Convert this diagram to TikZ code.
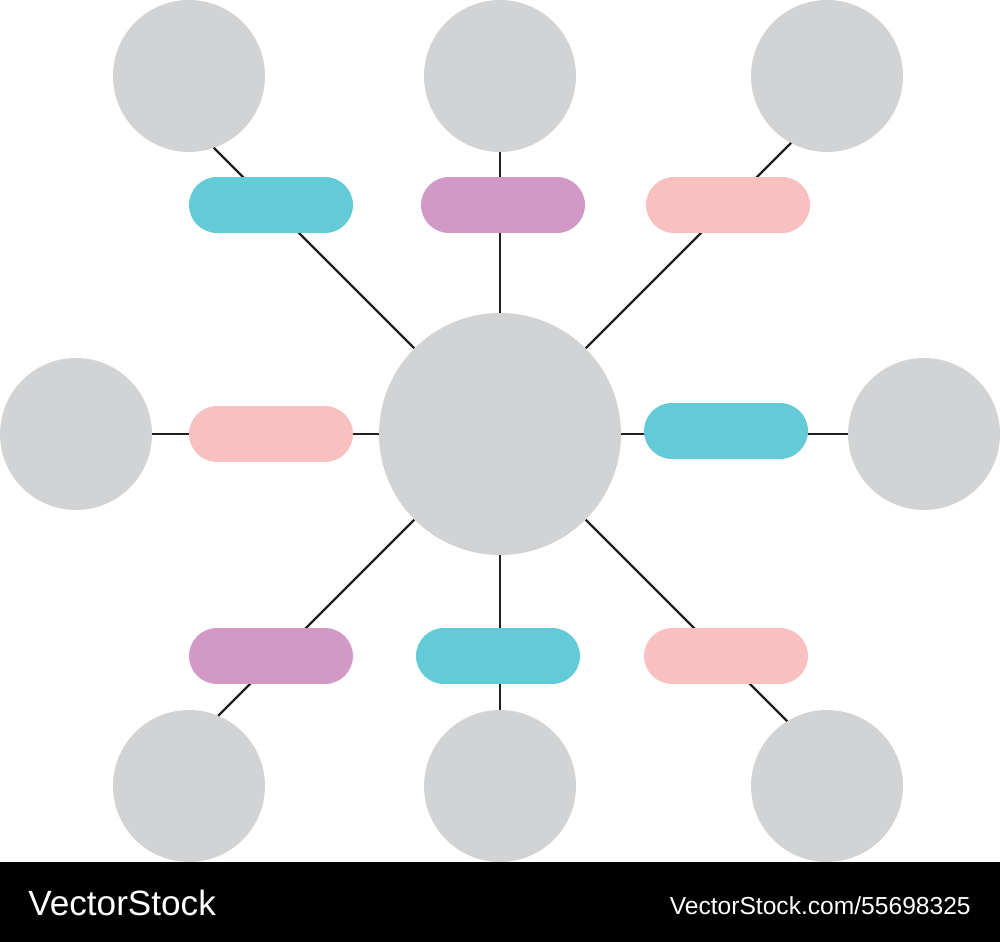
\documentclass[tikz,border=0pt]{standalone}
\usepackage{fontspec}
\usepackage{tikz}
\usetikzlibrary{graphs}
\usepackage{xcolor}
\newfontfamily\stockfont{Liberation Sans}

\definecolor{hubgrey}{HTML}{D1D3D4}
\definecolor{tagcyan}{HTML}{63CAD7}
\definecolor{tagpurple}{HTML}{D399C6}
\definecolor{tagpink}{HTML}{F9C0C0}
\definecolor{linkdark}{HTML}{231F20}

\tikzset{
  bubble/.style={circle, fill=hubgrey, inner sep=0pt, minimum size=3.04cm},
  hub/.style={circle, fill=hubgrey, inner sep=0pt, minimum size=4.84cm},
  tag/.style={rectangle, rounded corners=0.56cm, inner sep=0pt,
              minimum width=3.28cm, minimum height=1.12cm, fill=#1},
  link/.style={draw=linkdark, line width=1.4pt}
}

\begin{document}
\begin{tikzpicture}[x=0.02cm, y=-0.02cm]
            \useasboundingbox (0,0) rectangle (1000,942);

            \node[hub] (c) at (500, 434) {};
            \node[bubble] (tl) at (189, 76) {};
            \node[bubble] (tc) at (500, 76) {};
            \node[bubble] (tr) at (827, 76) {};
            \node[bubble] (l) at (76, 434) {};
            \node[bubble] (r) at (924, 434) {};
            \node[bubble] (bl) at (189, 786) {};
            \node[bubble] (bc) at (500, 786) {};
            \node[bubble] (br) at (827, 786) {};

            \coordinate (e_tl) at (213.8, 147.8);
            \coordinate (e_tr) at (791.0, 143.0);
            \coordinate (e_bl) at (218.2, 715.8);
            \coordinate (e_br) at (787.2, 721.2);

            \graph {(c) --[link] (e_tl)};
            \graph {(c) --[link] (tc)};
            \graph {(c) --[link] (e_tr)};
            \graph {(c) --[link] (l)};
            \graph {(c) --[link] (r)};
            \graph {(c) --[link] (e_bl)};
            \graph {(c) --[link] (bc)};
            \graph {(c) --[link] (e_br)};

            \node[tag=tagcyan] (t_tl) at (271, 205) {};
            \node[tag=tagpurple] (t_tc) at (503, 205) {};
            \node[tag=tagpink] (t_tr) at (728, 205) {};
            \node[tag=tagpink] (t_l) at (271, 434) {};
            \node[tag=tagcyan] (t_r) at (726, 431) {};
            \node[tag=tagpurple] (t_bl) at (271, 656) {};
            \node[tag=tagcyan] (t_bc) at (498, 656) {};
            \node[tag=tagpink] (t_br) at (726, 656) {};

            \fill[black] (0, 862) rectangle (1000, 942);
            \node[anchor=base west, inner sep=0pt, text=white,
                  font=\stockfont\fontsize{20}{24}\selectfont] (brand) at (28, 915) {VectorStock};
            \node[anchor=base east, inner sep=0pt, text=white,
                  font=\stockfont\fontsize{14}{17}\selectfont] (ref) at (971, 914) {VectorStock.com/55698325};
        \end{tikzpicture}
\end{document}
